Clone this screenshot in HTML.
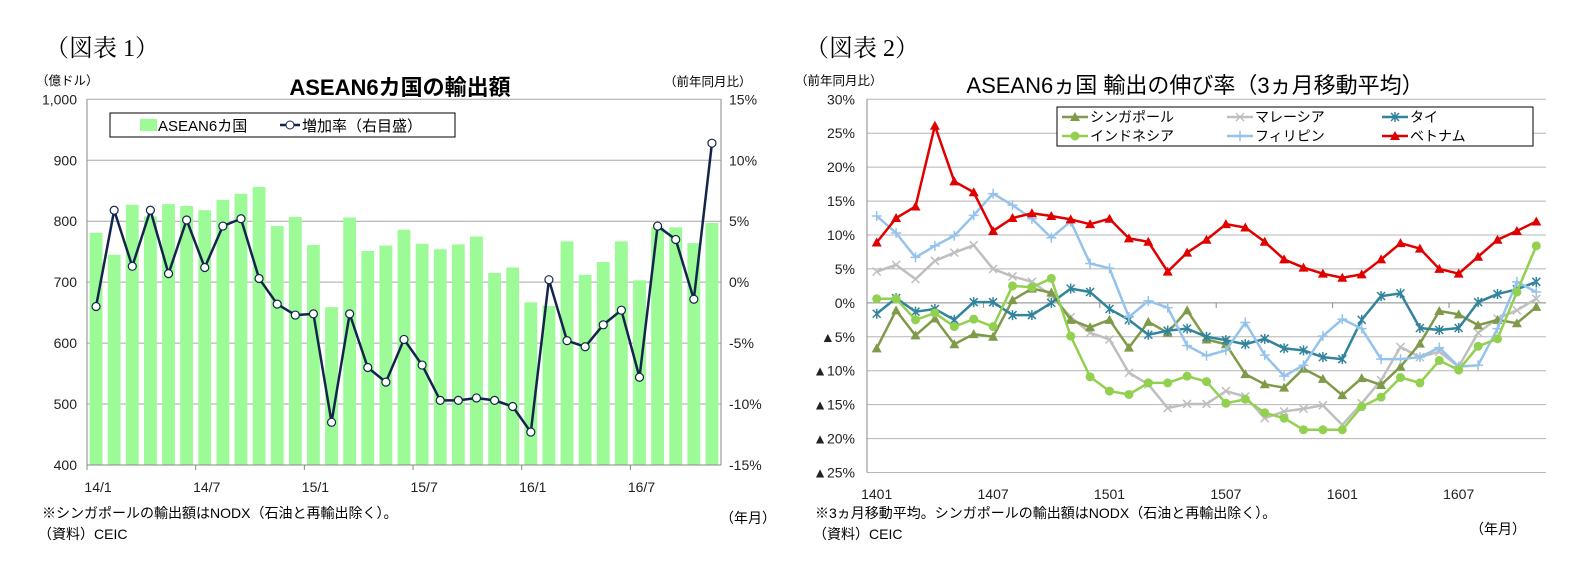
<!DOCTYPE html>
<html><head><meta charset="utf-8">
<style>
body{margin:0;background:#fff;}
svg{display:block;font-family:"Liberation Sans","Noto Sans CJK JP",sans-serif;}
</style></head>
<body>
<svg id="root" width="1596" height="567" viewBox="0 0 1596 567" xmlns="http://www.w3.org/2000/svg">
<g id="c1"></g>
<g id="c2"></g>
</svg>
<script>
// ---------- Chart 1 data ----------
const c1Cats = ["14/1","14/2","14/3","14/4","14/5","14/6","14/7","14/8","14/9","14/10","14/11","14/12","15/1","15/2","15/3","15/4","15/5","15/6","15/7","15/8","15/9","15/10","15/11","15/12","16/1","16/2","16/3","16/4","16/5","16/6","16/7","16/8","16/9","16/10","16/11"];
const c1Bars = [781,745,827,808,828,825,818,835,845,856,792,807,761,659,806,751,760,786,763,754,762,775,715,724,667,661,767,712,733,767,703,790,790,764,797];
const c1Growth = [-2.0,5.9,1.3,5.9,0.7,5.1,1.2,4.6,5.2,0.3,-1.8,-2.7,-2.6,-11.5,-2.6,-7.0,-8.2,-4.7,-6.8,-9.7,-9.7,-9.5,-9.7,-10.2,-12.3,0.2,-4.8,-5.3,-3.5,-2.3,-7.8,4.6,3.5,-1.4,11.4];
const c1LeftTicks = [400,500,600,700,800,900,1000];
const c1LeftLabels = ["400","500","600","700","800","900","1,000"];
const c1RightTicks = [-15,-10,-5,0,5,10,15];
const c1XLabels = ["14/1","14/7","15/1","15/7","16/1","16/7"];

// ---------- Chart 2 data ----------
const c2Cats = ["1401","1402","1403","1404","1405","1406","1407","1408","1409","1410","1411","1412","1501","1502","1503","1504","1505","1506","1507","1508","1509","1510","1511","1512","1601","1602","1603","1604","1605","1606","1607","1608","1609","1610","1611"];
const sgp = [-6.7,-1.1,-4.8,-2.3,-6.1,-4.6,-5.0,0.4,2.1,1.5,-2.5,-3.6,-2.5,-6.6,-2.8,-4.4,-1.1,-5.4,-6.1,-10.5,-12.0,-12.5,-9.7,-11.2,-13.6,-11.1,-12.1,-9.4,-6.0,-1.2,-1.7,-3.3,-2.5,-3.0,-0.6];
const mys = [4.6,5.6,3.5,6.2,7.4,8.5,5.0,3.9,3.1,1.1,-2.1,-4.4,-5.4,-10.3,-12.0,-15.5,-14.9,-14.9,-13.0,-13.8,-17.0,-16.0,-15.6,-15.1,-18.0,-14.8,-11.4,-6.5,-8.0,-7.2,-9.4,-4.4,-2.3,-1.1,0.6];
const tha = [-1.6,0.7,-1.3,-0.9,-2.5,0.1,0.1,-1.8,-1.8,0.0,2.1,1.6,-0.9,-2.5,-4.7,-4.1,-3.8,-5.0,-5.5,-6.1,-5.3,-6.7,-7.0,-8.0,-8.3,-2.5,1.0,1.4,-3.7,-4.0,-3.7,0.1,1.3,2.0,3.1];
const idn = [0.6,0.6,-2.5,-1.5,-3.5,-2.4,-3.5,2.5,2.3,3.6,-4.9,-10.9,-13.0,-13.5,-11.8,-11.8,-10.8,-11.6,-14.8,-14.2,-16.2,-17.0,-18.7,-18.7,-18.7,-15.3,-13.9,-11.0,-11.8,-8.5,-9.9,-6.4,-5.3,1.6,8.4];
const phl = [12.8,10.3,6.7,8.4,9.9,12.9,16.1,14.4,12.4,9.6,12.0,5.8,5.1,-2.1,0.3,-0.7,-6.3,-7.8,-7.0,-2.9,-7.7,-10.8,-9.2,-4.9,-2.4,-3.8,-8.3,-8.3,-8.0,-6.6,-9.4,-9.2,-3.8,3.1,1.6];
const vnm = [8.9,12.5,14.2,26.1,17.9,16.3,10.6,12.5,13.2,12.8,12.3,11.6,12.4,9.5,9.0,4.6,7.4,9.3,11.6,11.1,9.0,6.4,5.2,4.3,3.7,4.2,6.4,8.8,8.0,5.0,4.3,6.8,9.3,10.6,12.0];
const c2YTicks = [-25,-20,-15,-10,-5,0,5,10,15,20,25,30];
const c2YLabels = ["▲25%","▲20%","▲15%","▲10%","▲5%","0%","5%","10%","15%","20%","25%","30%"];
const c2XLabels = ["1401","1407","1501","1507","1601","1607"];

const NS="http://www.w3.org/2000/svg";
function mk(parent,tag,attrs,text){const e=document.createElementNS(NS,tag);for(const k in attrs)e.setAttribute(k,attrs[k]);if(text!==undefined)e.textContent=text;parent.appendChild(e);return e;}

// ---------- Chart 1 ----------
(function(){
const g=document.getElementById('c1');
const L=87,R=721,T=99.3,B=465;
const n=c1Cats.length, cw=(R-L)/n;
const xc=i=>L+cw*(i+0.5);
const yL=v=>B-(v-400)/600*(B-T);
const yR=v=>B-(v+15)/30*(B-T);
let t;
t=mk(g,'text',{x:45,y:56,'font-size':24,'font-family':'"Liberation Serif","Noto Serif CJK SC",serif'},'（図表 1）');

t=mk(g,'text',{x:400,y:95,'font-size':22,'font-weight':'bold','text-anchor':'middle'},'ASEAN6カ国の輸出額');

t=mk(g,'text',{x:36,y:85,'font-size':12.5},'（億ドル）');

t=mk(g,'text',{x:664,y:86,'font-size':12.5},'（前年同月比）');

c1LeftTicks.forEach((v,i)=>{
  const gl=mk(g,'line',{x1:L,x2:R,y1:yL(v),y2:yL(v),stroke:'#a6a6a6','stroke-width':1});
  
  const tl=mk(g,'text',{x:L-10,y:yL(v)+5,'font-size':14,'text-anchor':'end',fill:'#222'},c1LeftLabels[i]);
  
});
c1RightTicks.forEach(v=>{
  const tl=mk(g,'text',{x:R+8,y:yR(v)+5,'font-size':14,fill:'#222'},v+'%');
  
});
c1Bars.forEach((v,i)=>{
  const b=mk(g,'rect',{x:xc(i)-6.4,y:yL(v),width:12.8,height:B-yL(v),fill:'#9cfa97'});
  
});
let a=mk(g,'line',{x1:L,x2:L,y1:T,y2:B,stroke:'#888'});
a=mk(g,'line',{x1:R,x2:R,y1:T,y2:B,stroke:'#888'});
a=mk(g,'line',{x1:L,x2:R,y1:B,y2:B,stroke:'#888'});
for(let k=0;k<=n;k+=6){const tk=mk(g,'line',{x1:L+k*cw,x2:L+k*cw,y1:B,y2:B+5,stroke:'#888'});}
c1XLabels.forEach((s,k)=>{const tl=mk(g,'text',{x:xc(k*6)+2,y:492,'font-size':14,'text-anchor':'middle',fill:'#222'},s);});
const pts=c1Growth.map((v,i)=>xc(i)+','+yR(v)).join(' ');
const pl=mk(g,'polyline',{points:pts,fill:'none',stroke:'#14254d','stroke-width':2.5});

c1Growth.forEach((v,i)=>{const c=mk(g,'circle',{cx:xc(i),cy:yR(v),r:4,fill:'#fff',stroke:'#14254d','stroke-width':1.2});});
const lg=mk(g,'g',{});
mk(lg,'rect',{x:110,y:113,width:345,height:24,fill:'#fff',stroke:'#000','stroke-width':1});
mk(lg,'rect',{x:140,y:119,width:17,height:12,fill:'#9cfa97'});
mk(lg,'text',{x:158,y:131,'font-size':15},'ASEAN6カ国');
mk(lg,'line',{x1:280,x2:300,y1:125,y2:125,stroke:'#14254d','stroke-width':2.5});
mk(lg,'circle',{cx:290,cy:125,r:4,fill:'#fff',stroke:'#14254d'});
mk(lg,'text',{x:302,y:131,'font-size':15},'増加率（右目盛）');
t=mk(g,'text',{x:42,y:518,'font-size':14},'※シンガポールの輸出額はNODX（石油と再輸出除く）。');

t=mk(g,'text',{x:38,y:539,'font-size':14},'（資料）CEIC');

t=mk(g,'text',{x:720,y:523,'font-size':14},'（年月）');

})();

// ---------- Chart 2 ----------
(function(){
const g=document.getElementById('c2');
const L=867,R=1546,T=99.3,B=472.5;
const n=c2Cats.length, cw=(R-L)/n;
const xc=i=>L+cw*(i+0.5);
const y=v=>B-(v+25)/55*(B-T);
let t;
t=mk(g,'text',{x:805,y:56,'font-size':24,'font-family':'"Liberation Serif","Noto Serif CJK SC",serif'},'（図表 2）');

t=mk(g,'text',{x:1195,y:93,'font-size':22,'text-anchor':'middle'},'ASEAN6ヵ国 輸出の伸び率（3ヵ月移動平均）');

t=mk(g,'text',{x:795,y:85,'font-size':12.5},'（前年同月比）');

c2YTicks.forEach((v,i)=>{
  const gl=mk(g,'line',{x1:L,x2:R,y1:y(v),y2:y(v),stroke:v===0?'#888':'#b5b5b5','stroke-width':1});
  
  const tl=mk(g,'text',{x:L-12,y:y(v)+5,'font-size':14,'text-anchor':'end',fill:'#222'},c2YLabels[i]);
  
});
let a=mk(g,'line',{x1:L,x2:L,y1:T,y2:B,stroke:'#888'});
for(let k=6;k<n;k+=6){const tk=mk(g,'line',{x1:L+k*cw,x2:L+k*cw,y1:y(0),y2:y(0)+5,stroke:'#888'});}
c2XLabels.forEach((s,k)=>{const tl=mk(g,'text',{x:xc(k*6),y:499,'font-size':14,'text-anchor':'middle',fill:'#222'},s);});
function marker(p,type,cx,cy,col){
  if(type==='tri')mk(p,'polygon',{points:`${cx},${cy-5} ${cx-5},${cy+4} ${cx+5},${cy+4}`,fill:col});
  else if(type==='circ')mk(p,'circle',{cx,cy,r:4.5,fill:col});
  else if(type==='x'){mk(p,'path',{d:`M${cx-4},${cy-4}L${cx+4},${cy+4}M${cx-4},${cy+4}L${cx+4},${cy-4}`,stroke:col,'stroke-width':1.5});}
  else if(type==='plus'){mk(p,'path',{d:`M${cx-5},${cy}L${cx+5},${cy}M${cx},${cy-5}L${cx},${cy+5}`,stroke:col,'stroke-width':1.5});}
  else if(type==='star'){mk(p,'path',{d:`M${cx-4},${cy-4}L${cx+4},${cy+4}M${cx-4},${cy+4}L${cx+4},${cy-4}M${cx},${cy-5}L${cx},${cy+5}`,stroke:col,'stroke-width':1.5});}
}
const series=[
 {data:mys,col:'#bfbfbf',m:'x',name:'マレーシア',id:'malaysia'},
 {data:sgp,col:'#7f9a48',m:'tri',name:'シンガポール',id:'singapore'},
 {data:tha,col:'#31849b',m:'star',name:'タイ',id:'thailand'},
 {data:phl,col:'#95c3ec',m:'plus',name:'フィリピン',id:'philippines'},
 {data:idn,col:'#92d050',m:'circ',name:'インドネシア',id:'indonesia'},
 {data:vnm,col:'#e00000',m:'tri',name:'ベトナム',id:'vietnam'}
];
series.forEach(s=>{
  const sg=mk(g,'g',{});
  
  
  mk(sg,'polyline',{points:s.data.map((v,i)=>xc(i)+','+y(v)).join(' '),fill:'none',stroke:s.col,'stroke-width':2.5,'stroke-linejoin':'round'});
  s.data.forEach((v,i)=>marker(sg,s.m,xc(i),y(v),s.col));
});
const lg=mk(g,'g',{});
mk(lg,'rect',{x:1057,y:107,width:476,height:39,fill:'#fff',stroke:'#000','stroke-width':1});
const order=[series[1],series[0],series[2],series[4],series[3],series[5]];
const lx=[1080,1245,1400];
order.forEach((s,k)=>{
  const cx=lx[k%3], cy=k<3?117:136;
  mk(lg,'line',{x1:cx-18,x2:cx+8,y1:cy,y2:cy,stroke:s.col,'stroke-width':2.5});
  marker(lg,s.m,cx-5,cy,s.col);
  mk(lg,'text',{x:cx+10,y:cy+5,'font-size':14},s.name);
});
t=mk(g,'text',{x:815,y:518,'font-size':14},'※3ヵ月移動平均。シンガポールの輸出額はNODX（石油と再輸出除く）。');

t=mk(g,'text',{x:813,y:539,'font-size':14},'（資料）CEIC');

t=mk(g,'text',{x:1470,y:534,'font-size':14},'（年月）');

})();
</script>
</body></html>
